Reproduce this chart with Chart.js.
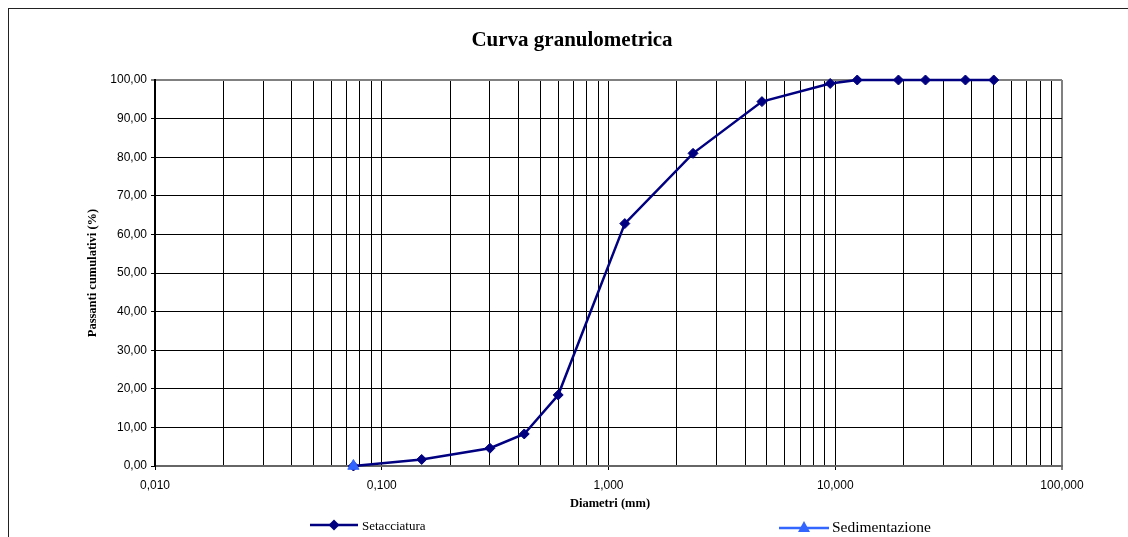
<!DOCTYPE html>
<html>
<head>
<meta charset="utf-8">
<script src="https://cdn.jsdelivr.net/npm/chart.js@4/dist/chart.umd.min.js"></script>
<style>
  html, body { margin:0; padding:0; background:#fff; overflow:hidden; width:1128px; height:537px; }
  #wrap { position:relative; width:1128px; height:537px; }
  #frame { position:absolute; left:8px; top:8px; width:1300px; height:700px; border:1px solid #222; box-sizing:border-box; pointer-events:none; }
  canvas { position:absolute; left:0; top:0; }
  .t { position:absolute; font-family:"Liberation Serif","Times New Roman",serif; color:#000; white-space:nowrap; }
  #title { left:0; width:1144px; text-align:center; top:27px; font-size:21px; font-weight:bold; }
  #ytitle { left:92px; top:273px; font-size:12.5px; font-weight:bold; transform:translate(-50%,-50%) rotate(-90deg); }
  #xtitle { left:610px; top:503px; font-size:12.5px; font-weight:bold; transform:translate(-50%,-50%); }
  #leg1 { left:362px; top:526px; font-size:13px; transform:translateY(-50%); }
  #leg2 { left:832px; top:527px; font-size:15.5px; transform:translateY(-50%); }
</style>
</head>
<body>
<div id="wrap">
  <canvas id="c" width="1128" height="537"></canvas>
  <div id="frame"></div>
  <div class="t" id="title">Curva granulometrica</div>
  <div class="t" id="ytitle">Passanti cumulativi (%)</div>
  <div class="t" id="xtitle">Diametri (mm)</div>
  <div class="t" id="leg1">Setacciatura</div>
  <div class="t" id="leg2">Sedimentazione</div>
</div>
<script>
// ---- data ----
const seriesNames = ["Setacciatura", "Sedimentazione"];
const setDiam = [0.075, 0.15, 0.3, 0.425, 0.6, 1.18, 2.36, 4.75, 9.5, 12.5, 19, 25, 37.5, 50];
const setPass = [0, 1.7, 4.6, 8.3, 18.4, 62.8, 81.0, 94.4, 99.1, 100, 100, 100, 100, 100];
const sedDiam = [0.075];
const sedPass = [0];
const xDecades = [0.01, 0.1, 1, 10, 100];
const xMultipliers = [1, 2, 3, 4, 5, 6, 7, 8, 9];
const yTicks = [0, 10, 20, 30, 40, 50, 60, 70, 80, 90, 100];

const NAVY = '#000080';
const BLUE = '#3366FF';

const xTickVals = [];
xDecades.forEach((d, i) => {
  if (i < xDecades.length - 1) xMultipliers.forEach(m => xTickVals.push(+(d * m).toPrecision(6)));
  else xTickVals.push(d);
});
const isDecade = v => xDecades.some(d => Math.abs(v - d) / d < 1e-6);

const legendPlugin = {
  id: 'customLegend',
  afterDraw(chart) {
    const ctx = chart.ctx;
    ctx.save();
    // Setacciatura
    ctx.strokeStyle = NAVY; ctx.lineWidth = 2.5;
    ctx.beginPath(); ctx.moveTo(310, 525); ctx.lineTo(358, 525); ctx.stroke();
    ctx.fillStyle = NAVY;
    ctx.beginPath(); ctx.moveTo(334, 519.5); ctx.lineTo(339.5, 525); ctx.lineTo(334, 530.5); ctx.lineTo(328.5, 525); ctx.closePath(); ctx.fill();
    // Sedimentazione
    ctx.strokeStyle = BLUE; ctx.lineWidth = 2.5;
    ctx.beginPath(); ctx.moveTo(779, 528); ctx.lineTo(829, 528); ctx.stroke();
    ctx.fillStyle = BLUE;
    ctx.beginPath(); ctx.moveTo(804, 521); ctx.lineTo(810, 532); ctx.lineTo(798, 532); ctx.closePath(); ctx.fill();
    ctx.restore();
  }
};

new Chart(document.getElementById('c'), {
  type: 'line',
  data: {
    datasets: [
      {
        label: seriesNames[0],
        data: setDiam.map((x, i) => ({ x, y: setPass[i] })),
        borderColor: NAVY, backgroundColor: NAVY, borderWidth: 2.5,
        pointStyle: 'rectRot', pointRadius: 5, pointBorderWidth: 1,
        pointBackgroundColor: NAVY, pointBorderColor: NAVY, tension: 0,
        clip: false, order: 2
      },
      {
        label: seriesNames[1],
        data: sedDiam.map((x, i) => ({ x, y: sedPass[i] })),
        borderColor: BLUE, backgroundColor: BLUE, borderWidth: 2.5,
        pointStyle: 'triangle', pointRadius: 6.5, pointBorderWidth: 1,
        pointBackgroundColor: BLUE, pointBorderColor: BLUE,
        clip: false, order: 1
      }
    ]
  },
  options: {
    responsive: false,
    animation: false,
    events: [],
    layout: { padding: { left: 0, right: 66, top: 80, bottom: 0 } },
    plugins: { legend: { display: false }, title: { display: false }, tooltip: { enabled: false } },
    scales: {
      x: {
        type: 'logarithmic', min: 0.01, max: 100,
        afterFit: s => { s.height = 71; },
        afterBuildTicks: s => { s.ticks = xTickVals.map(v => ({ value: v, major: isDecade(v) })); },
        ticks: {
          autoSkip: false, maxRotation: 0, minRotation: 0, padding: 8,
          color: '#000', font: { family: 'Liberation Sans, Arial, sans-serif', size: 12 },
          callback: v => isDecade(v) ? v.toFixed(3).replace('.', ',') : ''
        },
        grid: {
          color: c => (c.tick && Math.abs(c.tick.value - 100) < 1e-6) ? '#808080' : '#000',
          lineWidth: c => (c.tick && Math.abs(c.tick.value - 100) < 1e-6) ? 2 : 1,
          tickLength: 4,
          tickColor: c => (c.tick && isDecade(c.tick.value)) ? '#000' : 'rgba(0,0,0,0)',
          tickWidth: 1
        },
        border: { color: '#666', width: 2 }
      },
      y: {
        min: 0, max: 100,
        afterFit: s => { s.width = 155; },
        afterBuildTicks: s => { s.ticks = yTicks.map(v => ({ value: v })); },
        ticks: {
          padding: 4, color: '#000',
          font: { family: 'Liberation Sans, Arial, sans-serif', size: 12 },
          callback: v => v.toFixed(2).replace('.', ',')
        },
        grid: {
          color: c => (c.tick && c.tick.value === 100) ? '#808080' : '#000',
          lineWidth: c => (c.tick && c.tick.value === 100) ? 2 : 1,
          tickLength: 4, tickColor: '#000', tickWidth: 1
        },
        border: { color: '#000', width: 2 }
      }
    }
  },
  plugins: [legendPlugin]
});
</script>
</body>
</html>
